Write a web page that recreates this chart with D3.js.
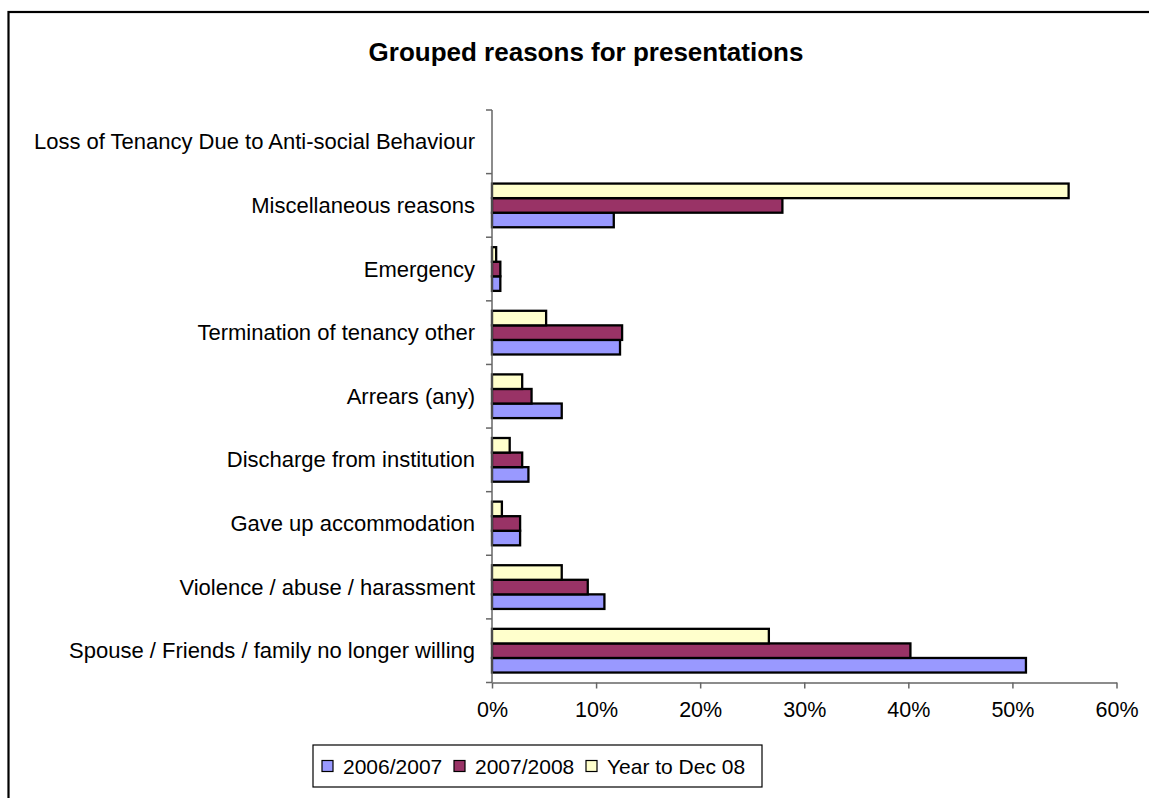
<!DOCTYPE html>
<html>
<head>
<meta charset="utf-8">
<script src="https://cdn.jsdelivr.net/npm/d3@7"></script>
<style>
  html, body { margin: 0; padding: 0; background: #fff; }
  svg { display: block; font-family: "Liberation Sans", Arial, sans-serif; }
</style>
</head>
<body>
<svg id="chart" width="1149" height="798"></svg>
<script>
// Reasons, listed top to bottom
const categories = [
  "Loss of Tenancy Due to Anti-social Behaviour",
  "Miscellaneous reasons",
  "Emergency",
  "Termination of tenancy other",
  "Arrears (any)",
  "Discharge from institution",
  "Gave up accommodation",
  "Violence / abuse / harassment",
  "Spouse / Friends / family no longer willing"
];

const seriesNames = ["2006/2007", "2007/2008", "Year to Dec 08"];

// Share of presentations (%) per reason
const values2006_07 = [0, 11.7, 0.8, 12.3, 6.7, 3.5, 2.7, 10.8, 51.3];
const values2007_08 = [0, 27.9, 0.8, 12.5, 3.8, 2.9, 2.7, 9.2, 40.2];
const valuesToDec08 = [0, 55.4, 0.4, 5.2, 2.9, 1.7, 0.95, 6.7, 26.6];

const xTicks = [0, 10, 20, 30, 40, 50, 60];

const colors = { "2006/2007": "#9999FF", "2007/2008": "#993366", "Year to Dec 08": "#FFFFCC" };

const seriesValues = {
  "2006/2007": values2006_07,
  "2007/2008": values2007_08,
  "Year to Dec 08": valuesToDec08
};

const svg = d3.select("#chart");

// Outer chart frame
svg.append("rect")
  .attr("x", 8.5).attr("y", 12)
  .attr("width", 1160).attr("height", 820)
  .attr("fill", "#fff").attr("stroke", "#000").attr("stroke-width", 2.2);

// Title
svg.append("text")
  .attr("x", 586).attr("y", 61)
  .attr("text-anchor", "middle")
  .attr("font-size", 26).attr("font-weight", "bold")
  .text("Grouped reasons for presentations");

const plot = { left: 492, right: 1116.5, top: 110, bottom: 682.5 };

const x = d3.scaleLinear().domain([0, 60]).range([plot.left, plot.right]);

const pad = 0.313;
const y = d3.scaleBand()
  .domain(categories)
  .range([plot.top, plot.bottom])
  .paddingInner(pad)
  .paddingOuter(pad / 2);

// Within a group the latest period sits on top
const ySub = d3.scaleBand()
  .domain(["Year to Dec 08", "2007/2008", "2006/2007"])
  .range([0, y.bandwidth()])
  .padding(0);

// Bars
const rows = categories.map((c, i) => ({
  category: c,
  items: seriesNames.map(s => ({ series: s, value: seriesValues[s][i] }))
}));

const groups = svg.append("g").selectAll("g")
  .data(rows)
  .join("g")
  .attr("transform", d => `translate(0,${y(d.category)})`);

groups.selectAll("rect")
  .data(d => d.items.filter(v => v.value > 0))
  .join("rect")
  .attr("x", x(0))
  .attr("y", d => ySub(d.series))
  .attr("width", d => x(d.value) - x(0))
  .attr("height", ySub.bandwidth())
  .attr("fill", d => colors[d.series])
  .attr("stroke", "#000")
  .attr("stroke-width", 2.3);

// Y axis: line, boundary ticks and category labels
const step = y.step();
const yAxis = svg.append("g");
yAxis.append("line")
  .attr("x1", plot.left).attr("x2", plot.left)
  .attr("y1", plot.top).attr("y2", plot.bottom)
  .attr("stroke", "#666").attr("stroke-width", 1.5);
yAxis.selectAll("line.tick")
  .data(d3.range(categories.length + 1))
  .join("line")
  .attr("class", "tick")
  .attr("x1", plot.left - 6).attr("x2", plot.left)
  .attr("y1", i => plot.top + i * step)
  .attr("y2", i => plot.top + i * step)
  .attr("stroke", "#666").attr("stroke-width", 1.5);
yAxis.selectAll("text")
  .data(categories)
  .join("text")
  .attr("x", 475)
  .attr("y", d => y(d) + y.bandwidth() / 2 + 7.5)
  .attr("text-anchor", "end")
  .attr("font-size", 22)
  .attr("fill", "#000")
  .text(d => d);

// X axis
const xAxis = svg.append("g")
  .attr("transform", `translate(0,${plot.bottom})`)
  .call(d3.axisBottom(x)
    .tickValues(xTicks)
    .tickFormat(d => d + "%")
    .tickSize(6)
    .tickSizeOuter(0)
    .tickPadding(13));
xAxis.select(".domain").attr("stroke", "#666").attr("stroke-width", 1.5);
xAxis.selectAll(".tick line").attr("stroke", "#666").attr("stroke-width", 1.5);
xAxis.selectAll(".tick text")
  .attr("font-size", 21.5)
  .attr("font-family", "Liberation Sans, Arial, sans-serif")
  .attr("fill", "#000");

// Legend
const legend = svg.append("g");
legend.append("rect")
  .attr("x", 313).attr("y", 745)
  .attr("width", 449).attr("height", 42)
  .attr("fill", "#fff").attr("stroke", "#000").attr("stroke-width", 1.2);

const legendX = { "2006/2007": 322, "2007/2008": 454, "Year to Dec 08": 586 };
const items = legend.selectAll("g")
  .data(seriesNames)
  .join("g")
  .attr("transform", d => `translate(${legendX[d]},766)`);
items.append("rect")
  .attr("x", 0).attr("y", -5.5)
  .attr("width", 11).attr("height", 11)
  .attr("fill", d => colors[d])
  .attr("stroke", "#000").attr("stroke-width", 1.2);
items.append("text")
  .attr("x", 21).attr("y", 7.5)
  .attr("font-size", 21)
  .text(d => d);
</script>
</body>
</html>
